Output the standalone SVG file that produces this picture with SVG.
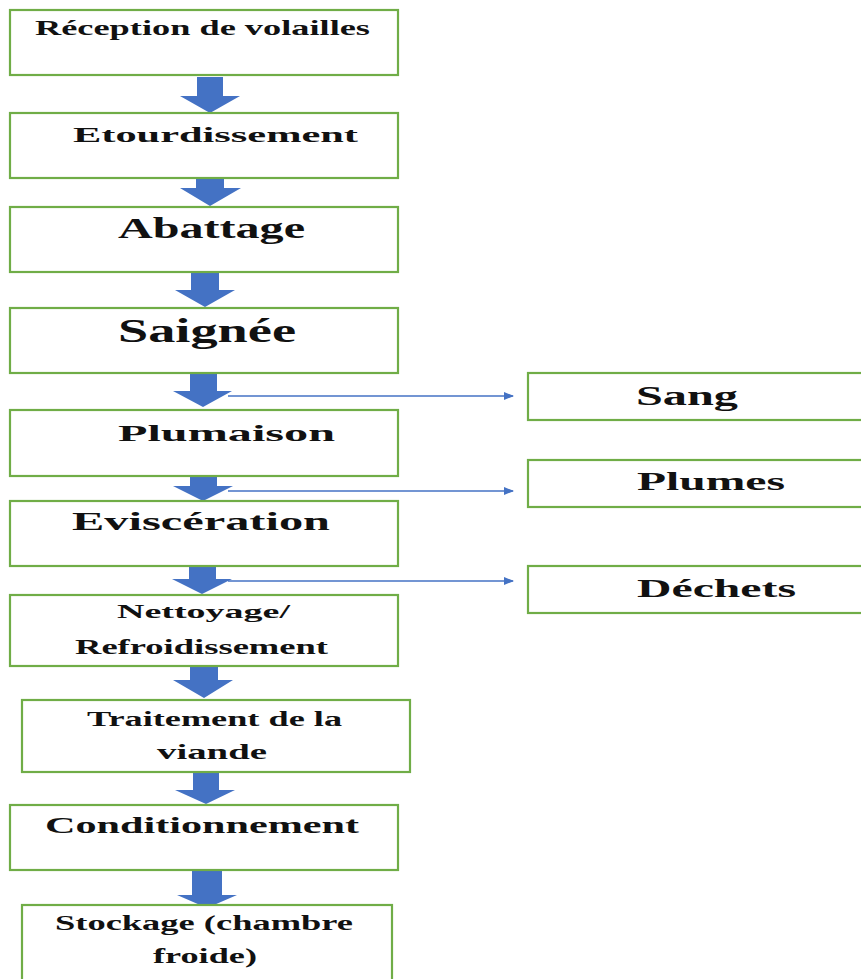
<svg xmlns="http://www.w3.org/2000/svg" width="861" height="979" viewBox="0 0 861 979">
<style>
.box{fill:#fff;stroke:#70AD47;stroke-width:2.2}
.t{font-family:"Liberation Serif","Times New Roman",serif;font-weight:bold;fill:#111}
.ba{fill:#4472C4}
.ln{stroke:#4472C4;stroke-width:1.6;fill:none}
</style>
<defs>
<marker id="ah" markerWidth="10" markerHeight="8" refX="9" refY="4" orient="auto" markerUnits="userSpaceOnUse">
<path d="M0,0 L10,4 L0,8 Z" fill="#4472C4"/>
</marker>
</defs>
<rect width="861" height="979" fill="#fff"/>

<g id="connectors">
<path class="ba" d="M197,77 L223,77 L223,96 L240,96 L210,113 L180,96 L197,96 Z"/>
<path class="ba" d="M196,179 L224,179 L224,188 L241,188 L210,206 L180,188 L196,188 Z"/>
<path class="ba" d="M191,273 L219,273 L219,290 L235,290 L205,307 L175,290 L191,290 Z"/>
<path class="ba" d="M190,374 L217,374 L217,391 L232,391 L203,407 L173,391 L190,391 Z"/>
<path class="ba" d="M190,477 L217,477 L217,486 L233,486 L203,501 L173,486 L190,486 Z"/>
<path class="ba" d="M189,567 L216,567 L216,579 L232,579 L202,594 L172,579 L189,579 Z"/>
<path class="ba" d="M190,667 L218,667 L218,680 L233,680 L204,698 L173,680 L190,680 Z"/>
<path class="ba" d="M193,773 L219,773 L219,790 L235,790 L206,804 L175,790 L193,790 Z"/>
<path class="ba" d="M192,871 L222,871 L222,895 L237,895 L207,908 L177,895 L192,895 Z"/>
<line class="ln" x1="228" y1="396" x2="513" y2="396" marker-end="url(#ah)"/>
<line class="ln" x1="228" y1="491" x2="513" y2="491" marker-end="url(#ah)"/>
<line class="ln" x1="228" y1="581" x2="513" y2="581" marker-end="url(#ah)"/>
</g>

<g id="n1"><rect class="box" x="10" y="10" width="388" height="65"/>
<text class="t" x="35" y="35" font-size="21" textLength="335" lengthAdjust="spacingAndGlyphs">Réception de volailles</text></g>
<g id="n2"><rect class="box" x="10" y="113" width="388" height="65"/>
<text class="t" x="73" y="142" font-size="21" textLength="285" lengthAdjust="spacingAndGlyphs">Etourdissement</text></g>
<g id="n3"><rect class="box" x="10" y="207" width="388" height="65"/>
<text class="t" x="118" y="238" font-size="29" textLength="187" lengthAdjust="spacingAndGlyphs">Abattage</text></g>
<g id="n4"><rect class="box" x="10" y="308" width="388" height="65"/>
<text class="t" x="118" y="342" font-size="33" textLength="178" lengthAdjust="spacingAndGlyphs">Saignée</text></g>
<g id="n5"><rect class="box" x="10" y="410" width="388" height="66"/>
<text class="t" x="118" y="441" font-size="24" textLength="217" lengthAdjust="spacingAndGlyphs">Plumaison</text></g>
<g id="n6"><rect class="box" x="10" y="501" width="388" height="65"/>
<text class="t" x="72" y="530" font-size="26" textLength="258" lengthAdjust="spacingAndGlyphs">Eviscération</text></g>
<g id="n7"><rect class="box" x="10" y="595" width="388" height="71"/>
<text class="t" x="117" y="618" font-size="19" textLength="173" lengthAdjust="spacingAndGlyphs">Nettoyage/</text>
<text class="t" x="75" y="654" font-size="21" textLength="253" lengthAdjust="spacingAndGlyphs">Refroidissement</text></g>
<g id="n8"><rect class="box" x="22" y="700" width="388" height="72"/>
<text class="t" x="87" y="726" font-size="20" textLength="255" lengthAdjust="spacingAndGlyphs">Traitement de la</text>
<text class="t" x="157" y="759" font-size="21" textLength="110" lengthAdjust="spacingAndGlyphs">viande</text></g>
<g id="n9"><rect class="box" x="10" y="805" width="388" height="65"/>
<text class="t" x="45" y="833" font-size="23" textLength="314" lengthAdjust="spacingAndGlyphs">Conditionnement</text></g>
<g id="n10"><rect class="box" x="22" y="905" width="370" height="90"/>
<text class="t" x="55" y="930" font-size="20" textLength="298" lengthAdjust="spacingAndGlyphs">Stockage (chambre</text>
<text class="t" x="153" y="963" font-size="20" textLength="104" lengthAdjust="spacingAndGlyphs">froide)</text></g>

<g id="s1"><rect class="box" x="528" y="373" width="345" height="47"/>
<text class="t" x="636" y="405" font-size="27" textLength="102" lengthAdjust="spacingAndGlyphs">Sang</text></g>
<g id="s2"><rect class="box" x="528" y="460" width="345" height="47"/>
<text class="t" x="637" y="490" font-size="26" textLength="148" lengthAdjust="spacingAndGlyphs">Plumes</text></g>
<g id="s3"><rect class="box" x="528" y="566" width="345" height="47"/>
<text class="t" x="637" y="597" font-size="26" textLength="159" lengthAdjust="spacingAndGlyphs">Déchets</text></g>
</svg>
